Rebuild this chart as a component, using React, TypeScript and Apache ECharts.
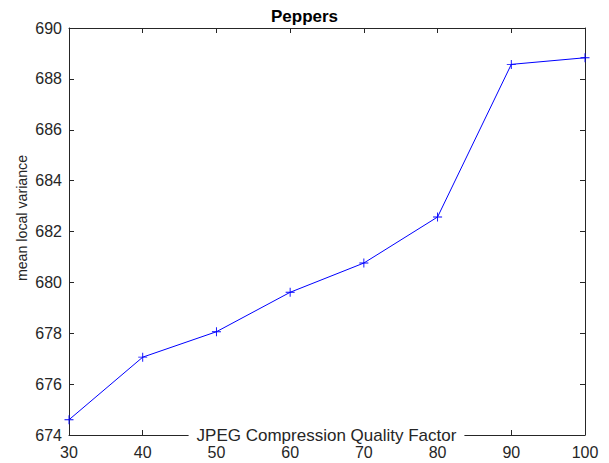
import React, { useEffect, useRef } from "react";
import * as echarts from "echarts";

// JPEG quality factor vs. mean local variance for the "Peppers" image
const qualityFactors = [30, 40, 50, 60, 70, 80, 90, 100];
const meanLocalVariance = [674.6, 677.06, 678.06, 679.61, 680.76, 682.57, 688.57, 688.83];

const xTicks = { min: 30, max: 100, interval: 10 };
const yTicks = { min: 674, max: 690, interval: 2 };

const axisColor = "#262626";
const font = "'Liberation Sans', Helvetica, Arial, sans-serif";

// "+" marker built from two thin bars
const plusSymbol = "path://M0,4.5H10V5.5H0Z M4.5,0H5.5V10H4.5Z";

export default function App() {
  const ref = useRef<HTMLDivElement>(null);

  useEffect(() => {
    if (!ref.current) return;
    document.body.style.margin = "0";
    const chart = echarts.init(ref.current, null, { renderer: "svg" });

    const boxAxis = (extra: any) => ({
      type: "value",
      axisLine: { show: true, onZero: false, lineStyle: { color: axisColor, width: 1 } },
      axisTick: { show: true, inside: true, length: 5, lineStyle: { color: axisColor, width: 1 } },
      splitLine: { show: false },
      ...extra,
    });

    chart.setOption({
      animation: false,
      backgroundColor: "#ffffff",
      grid: { left: 69, right: 24, top: 28, bottom: 28, containLabel: false },
      title: {
        text: "Peppers",
        left: "center",
        top: 3,
        textStyle: { fontFamily: font, fontSize: 17, fontWeight: "bold", color: "#000" },
      },
      xAxis: [
        boxAxis({
          position: "bottom",
          ...xTicks,
          axisLabel: { color: axisColor, fontFamily: font, fontSize: 16, margin: 9 },
        }),
        boxAxis({ position: "top", ...xTicks, axisLabel: { show: false } }),
      ],
      yAxis: [
        boxAxis({
          position: "left",
          ...yTicks,
          axisLabel: { color: axisColor, fontFamily: font, fontSize: 16, margin: 7 },
        }),
        boxAxis({ position: "right", ...yTicks, axisLabel: { show: false } }),
      ],
      graphic: [
        {
          // x-axis title sits on the axis line, masking it with a white box
          type: "text",
          z: 100,
          x: 326.5,
          y: 435,
          style: {
            text: "JPEG Compression Quality Factor",
            fill: axisColor,
            font: `17px ${font}`,
            lineHeight: 14,
            align: "center",
            verticalAlign: "middle",
            backgroundColor: "#ffffff",
            padding: [0, 8],
          },
        },
        {
          type: "text",
          z: 100,
          x: 22,
          y: 218,
          rotation: Math.PI / 2,
          style: {
            text: "mean local variance",
            fill: axisColor,
            font: `14.2px ${font}`,
            align: "center",
            verticalAlign: "middle",
          },
        },
      ],
      series: [
        {
          type: "line",
          data: qualityFactors.map((q, i) => [q, meanLocalVariance[i]]),
          lineStyle: { color: "#0000ff", width: 1 },
          itemStyle: { color: "#0000ff" },
          symbol: plusSymbol,
          symbolSize: 9,
          showSymbol: true,
          clip: false,
        },
      ],
    });

    return () => chart.dispose();
  }, []);

  return <div ref={ref} style={{ width: 609, height: 463 }} />;
}
